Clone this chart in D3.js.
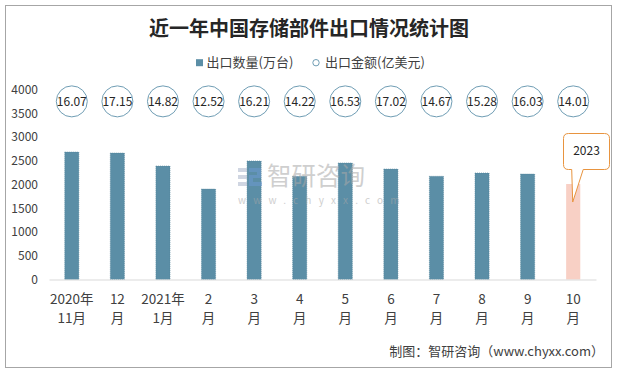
<!DOCTYPE html>
<html>
<head>
<meta charset="utf-8">
<script src="https://cdn.jsdelivr.net/npm/d3@7"></script>
<style>
  body { margin: 0; background: #fff; }
  svg { display: block; font-family: "Noto Sans CJK SC", "Noto Sans", sans-serif; }
</style>
</head>
<body>
<svg id="chart" width="617" height="371"></svg>
<script>
// categories, two lines each
const months = [
  ["2020年", "11月"], ["12", "月"], ["2021年", "1月"], ["2", "月"], ["3", "月"], ["4", "月"],
  ["5", "月"], ["6", "月"], ["7", "月"], ["8", "月"], ["9", "月"], ["10", "月"]
];
// 出口数量(万台)
const quantity = [2684, 2663, 2389, 1905, 2495, 2172, 2453, 2326, 2173, 2242, 2221, 2010];
// 出口金额(亿美元)
const amount = [16.07, 17.15, 14.82, 12.52, 16.21, 14.22, 16.53, 17.02, 14.67, 15.28, 16.03, 14.01];
const yTicks = [0, 500, 1000, 1500, 2000, 2500, 3000, 3500, 4000];
const legendNames = ["出口数量(万台)", "出口金额(亿美元)"];
const highlightIndex = 11;
const calloutText = "2023";

const barColor = "#5b8ea6";
const pinkColor = "#f8d0c5";
const ringColor = "#6f9db4";
const orange = "#e8943f";

const svg = d3.select("#chart");

// outer frame
svg.append("rect")
  .attr("x", 5.5).attr("y", 5.5)
  .attr("width", 606).attr("height", 362)
  .attr("fill", "#fff")
  .attr("stroke", "#a6a6a6")
  .attr("stroke-width", 1);

// title
svg.append("text")
  .attr("x", 309).attr("y", 35.5)
  .attr("text-anchor", "middle")
  .attr("font-size", "20px")
  .attr("font-weight", "bold")
  .attr("fill", "#262626")
  .text("近一年中国存储部件出口情况统计图");

// legend
const legend = svg.append("g").attr("font-size", "13px").attr("fill", "#404040");
legend.append("rect")
  .attr("x", 196).attr("y", 59.2).attr("width", 7).attr("height", 7)
  .attr("fill", barColor);
legend.append("text").attr("x", 206.5).attr("y", 67.3).text(legendNames[0]);
legend.append("circle")
  .attr("cx", 316).attr("cy", 62.7).attr("r", 3.2)
  .attr("fill", "#fff").attr("stroke", ringColor).attr("stroke-width", 1);
legend.append("text").attr("x", 325).attr("y", 67.3).text(legendNames[1]);

var x = d3.scaleBand()
  .domain(d3.range(months.length))
  .range([49, 596])
  .paddingInner(0.69)
  .paddingOuter(0.345);

var y = d3.scaleLinear().domain([0, 4000]).range([279.5, 89.5]);

// y axis (labels only)
var yAxis = d3.axisLeft(y).tickValues(yTicks).tickFormat(d3.format("d")).tickSize(0).tickPadding(11);
svg.append("g")
  .attr("transform", "translate(49,0)")
  .call(yAxis)
  .call(g => g.select(".domain").remove())
  .selectAll("text")
  .attr("font-family", "Noto Sans CJK SC")
  .attr("font-size", "12px")
  .attr("fill", "#404040");

// bars
svg.append("g")
  .selectAll("rect")
  .data(quantity)
  .enter()
  .append("rect")
  .attr("x", (d, i) => x(i))
  .attr("y", d => y(d))
  .attr("width", x.bandwidth())
  .attr("height", d => y(0) - y(d))
  .attr("fill", (d, i) => i === highlightIndex ? pinkColor : barColor)
  .attr("stroke", (d, i) => i === highlightIndex ? "none" : "#4f8199")
  .attr("stroke-width", 0.6)
  .attr("stroke-dasharray", "1,1");

// x axis
var xAxis = d3.axisBottom(x).tickSize(0).tickFormat("");
const xg = svg.append("g")
  .attr("transform", "translate(0," + y(0) + ")")
  .call(xAxis);
xg.select(".domain").attr("stroke", "#d9d9d9").attr("stroke-width", 1);
xg.selectAll(".tick text").remove();
xg.selectAll(".tick")
  .append("text")
  .attr("text-anchor", "middle")
  .attr("font-family", "Noto Sans CJK SC")
  .attr("font-size", "13.5px")
  .attr("fill", "#404040")
  .each(function (d) {
    const t = d3.select(this);
    t.append("tspan").attr("x", 0).attr("y", 24.5).text(months[d][0]);
    t.append("tspan").attr("x", 0).attr("y", 43.5).text(months[d][1]);
  });

// watermark
const wm = svg.append("g").attr("opacity", 0.55);
wm.append("rect").attr("x", 238).attr("y", 168).attr("width", 9).attr("height", 4).attr("fill", "#aab6cc");
wm.append("rect").attr("x", 238).attr("y", 175).attr("width", 9).attr("height", 4).attr("fill", "#aab6cc");
wm.append("rect").attr("x", 238).attr("y", 182).attr("width", 9).attr("height", 4).attr("fill", "#aab6cc");
wm.append("path")
  .attr("d", "M249,168 H261 V178 H253 V182 H262 V186 H249 V175 H257 V172 H249 Z")
  .attr("fill", "#6d9ad0");
wm.append("text")
  .attr("x", 267).attr("y", 185)
  .attr("font-size", "24.5px")
  .attr("fill", "#a8a8a8")
  .text("智研咨询");
wm.append("text")
  .attr("x", 238).attr("y", 204)
  .attr("font-size", "10px")
  .attr("letter-spacing", "7.2px")
  .attr("fill", "#a8a8a8")
  .text("www.chyxx.com");

// amount rings
const rings = svg.append("g")
  .selectAll("g")
  .data(amount)
  .enter()
  .append("g")
  .attr("transform", (d, i) => "translate(" + (x(i) + x.bandwidth() / 2) + "," + y(3750) + ")");
rings.append("circle")
  .attr("r", 15.5)
  .attr("fill", "#fff")
  .attr("stroke", ringColor)
  .attr("stroke-width", 1);
rings.append("text")
  .attr("text-anchor", "middle")
  .attr("y", 4.3)
  .attr("font-size", "12px")
  .attr("fill", "#262626")
  .text(d => d.toFixed(2));

// callout on highlighted bar
const cx = x(highlightIndex) + x.bandwidth() / 2;
const tipY = y(quantity[highlightIndex]) + 18;
const bx0 = 563.5, bx1 = 609.5, by0 = 133.5, by1 = 169.5, r = 5;
const callout = "M" + (bx0 + r) + "," + by0 +
  " H" + (bx1 - r) + " Q" + bx1 + "," + by0 + " " + bx1 + "," + (by0 + r) +
  " V" + (by1 - r) + " Q" + bx1 + "," + by1 + " " + (bx1 - r) + "," + by1 +
  " H" + (cx + 10) + " L" + (cx - 0.5) + "," + tipY + " L" + (cx - 1.5) + "," + by1 +
  " H" + (bx0 + r) + " Q" + bx0 + "," + by1 + " " + bx0 + "," + (by1 - r) +
  " V" + (by0 + r) + " Q" + bx0 + "," + by0 + " " + (bx0 + r) + "," + by0 + " Z";
svg.append("path")
  .attr("d", callout)
  .attr("fill", "#fff")
  .attr("stroke", orange)
  .attr("stroke-width", 1);
svg.append("text")
  .attr("x", (bx0 + bx1) / 2).attr("y", 155)
  .attr("text-anchor", "middle")
  .attr("font-size", "12px")
  .attr("fill", "#262626")
  .text(calloutText);

// footer
svg.append("text")
  .attr("x", 604).attr("y", 356)
  .attr("text-anchor", "end")
  .attr("font-size", "13px")
  .attr("fill", "#404040")
  .text("制图：智研咨询（www.chyxx.com）");
</script>
</body>
</html>
